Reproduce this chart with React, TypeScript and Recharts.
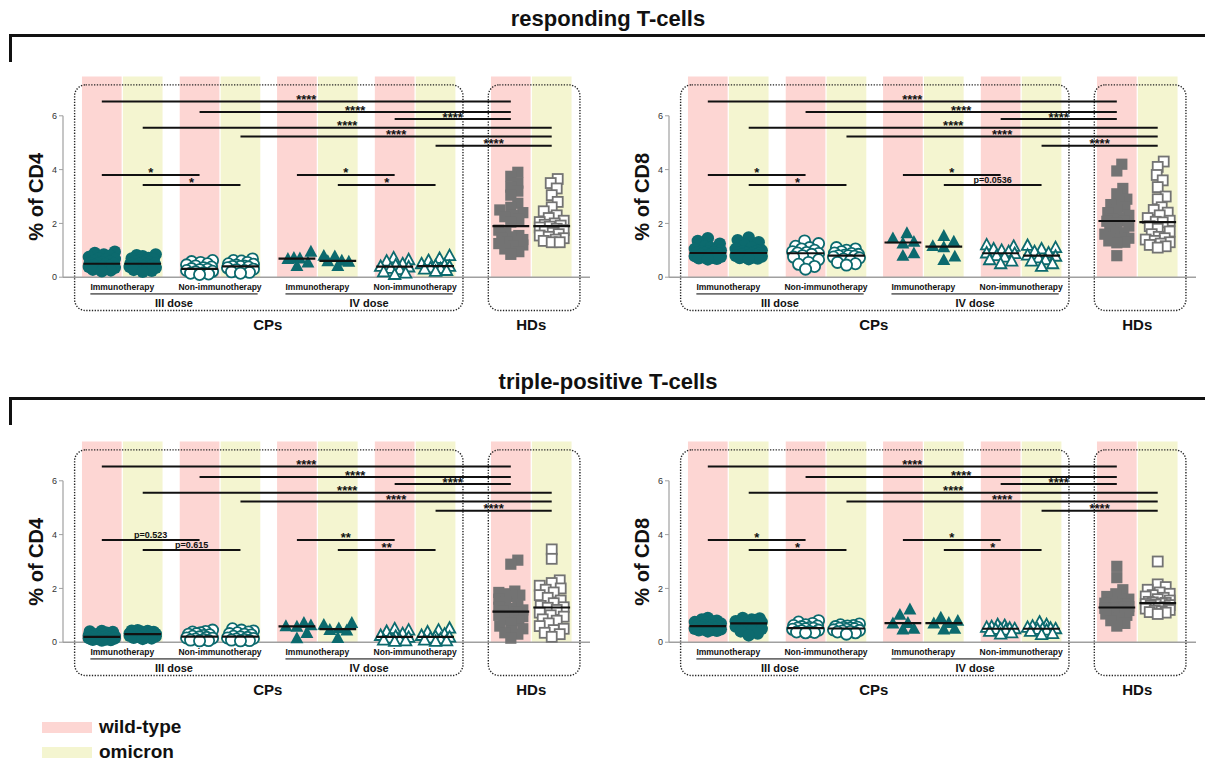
import React from "react";
import {
  ReferenceArea,
  ReferenceDot,
  ReferenceLine,
  Scatter,
  ScatterChart,
  XAxis,
  YAxis,
} from "recharts";

const FONT = '"Liberation Sans", Arial, Helvetica, sans-serif';
const TEAL = "#0c6a6e";
const GREY = "#737373";
const PINK = "#fdd6d3";
const YELLOW = "#f4f5d0";
const AXIS = "#a0a0a0";

// ---- categories / labels ----
const VARIANTS = ["wild-type", "omicron"];
const COHORTS = ["Immunotherapy", "Non-immunotherapy", "Immunotherapy", "Non-immunotherapy"];
const DOSES = ["III dose", "IV dose"];
const POPULATIONS = ["CPs", "HDs"];
const Y_TICKS = [0, 2, 4, 6];
const SECTION_TITLES = ["responding T-cells", "triple-positive T-cells"];
const LONG_STARS = ["****", "****", "****", "****", "****", "****"];

// ---- values (% of parent), one row per slot:
// III immuno wt, III immuno om, III non wt, III non om,
// IV immuno wt, IV immuno om, IV non wt, IV non om, HD wt, HD om
const respondingCD4 = [
  [0.95, 0.9, 0.85, 0.8, 0.75, 0.7, 0.68, 0.65, 0.6, 0.58, 0.55, 0.52, 0.5, 0.5, 0.48, 0.45, 0.42, 0.4, 0.38, 0.35, 0.32, 0.3, 0.28, 0.25, 0.22],
  [0.85, 0.82, 0.78, 0.72, 0.7, 0.66, 0.62, 0.6, 0.58, 0.55, 0.53, 0.52, 0.5, 0.49, 0.47, 0.45, 0.42, 0.4, 0.38, 0.35, 0.33, 0.3, 0.27, 0.24, 0.2],
  [0.62, 0.58, 0.55, 0.5, 0.46, 0.42, 0.38, 0.35, 0.32, 0.3, 0.28, 0.25, 0.22, 0.2, 0.17, 0.15, 0.12, 0.1],
  [0.68, 0.62, 0.6, 0.55, 0.5, 0.48, 0.45, 0.42, 0.4, 0.4, 0.38, 0.35, 0.3, 0.28, 0.25, 0.2, 0.18, 0.15],
  [0.95, 0.72, 0.7, 0.68, 0.55, 0.42],
  [0.8, 0.78, 0.62, 0.6, 0.58, 0.42],
  [0.72, 0.65, 0.6, 0.5, 0.45, 0.4, 0.38, 0.33, 0.28, 0.2, 0.15, 0.1],
  [0.8, 0.7, 0.62, 0.5, 0.45, 0.42, 0.4, 0.35, 0.32, 0.3, 0.25, 0.22],
  [3.9, 3.75, 3.5, 3.35, 3.2, 3.05, 2.75, 2.6, 2.5, 2.4, 2.3, 2.25, 2.15, 2.05, 1.75, 1.65, 1.55, 1.5, 1.45, 1.4, 1.35, 1.3, 1.25, 1.2, 1.15, 1.05, 0.95, 0.85],
  [3.65, 3.5, 3.3, 3.05, 2.8, 2.6, 2.45, 2.3, 2.2, 2.1, 2.05, 2.0, 1.95, 1.92, 1.88, 1.85, 1.8, 1.75, 1.7, 1.65, 1.6, 1.55, 1.5, 1.45, 1.4, 1.35, 1.3, 1.3],
];

const respondingCD8 = [
  [1.45, 1.35, 1.25, 1.15, 1.1, 1.05, 1.02, 1.0, 0.97, 0.95, 0.93, 0.91, 0.9, 0.88, 0.86, 0.84, 0.82, 0.8, 0.78, 0.76, 0.74, 0.72, 0.7, 0.68, 0.66],
  [1.48, 1.38, 1.3, 1.2, 1.1, 1.05, 1.0, 0.98, 0.96, 0.94, 0.92, 0.91, 0.9, 0.89, 0.87, 0.85, 0.83, 0.81, 0.79, 0.77, 0.75, 0.73, 0.71, 0.69, 0.67],
  [1.35, 1.25, 1.15, 1.1, 1.05, 1.0, 0.95, 0.92, 0.9, 0.88, 0.85, 0.8, 0.75, 0.65, 0.55, 0.48, 0.4, 0.3],
  [1.1, 1.05, 1.0, 0.95, 0.9, 0.88, 0.85, 0.82, 0.8, 0.8, 0.78, 0.75, 0.72, 0.68, 0.62, 0.55, 0.5, 0.45],
  [1.64, 1.45, 1.32, 1.26, 0.89, 0.8],
  [1.54, 1.33, 1.16, 1.12, 0.77, 0.64],
  [1.2, 1.15, 1.05, 1.0, 0.95, 0.9, 0.88, 0.8, 0.75, 0.65, 0.6, 0.5],
  [1.18, 1.1, 1.05, 0.95, 0.9, 0.82, 0.78, 0.72, 0.65, 0.6, 0.5, 0.4],
  [4.2, 3.95, 3.3, 3.1, 2.9, 2.8, 2.7, 2.6, 2.5, 2.4, 2.3, 2.2, 2.15, 2.1, 2.08, 2.0, 1.9, 1.8, 1.7, 1.65, 1.6, 1.5, 1.45, 1.4, 1.35, 1.3, 1.28, 0.8],
  [4.3, 4.1, 3.8, 3.6, 3.35, 3.0, 2.9, 2.6, 2.5, 2.4, 2.3, 2.2, 2.1, 2.06, 2.04, 1.9, 1.8, 1.7, 1.6, 1.5, 1.45, 1.4, 1.35, 1.3, 1.25, 1.2, 1.15, 1.1],
];

const tripleCD4 = [
  [0.42, 0.4, 0.38, 0.35, 0.32, 0.3, 0.28, 0.26, 0.25, 0.23, 0.22, 0.21, 0.2, 0.2, 0.19, 0.18, 0.17, 0.16, 0.15, 0.14, 0.12, 0.1, 0.09, 0.08, 0.06],
  [0.45, 0.43, 0.42, 0.4, 0.38, 0.36, 0.35, 0.34, 0.33, 0.32, 0.31, 0.3, 0.3, 0.29, 0.28, 0.27, 0.26, 0.25, 0.24, 0.22, 0.2, 0.18, 0.16, 0.14, 0.12],
  [0.45, 0.4, 0.38, 0.35, 0.32, 0.3, 0.28, 0.25, 0.22, 0.2, 0.18, 0.16, 0.15, 0.12, 0.1, 0.08, 0.06, 0.05],
  [0.5, 0.45, 0.42, 0.38, 0.35, 0.32, 0.3, 0.27, 0.22, 0.2, 0.18, 0.16, 0.14, 0.12, 0.1, 0.08, 0.06, 0.05],
  [0.72, 0.63, 0.6, 0.58, 0.35, 0.15],
  [0.72, 0.65, 0.52, 0.46, 0.44, 0.16],
  [0.5, 0.45, 0.4, 0.32, 0.25, 0.22, 0.18, 0.15, 0.1, 0.08, 0.05, 0.03],
  [0.52, 0.45, 0.38, 0.3, 0.25, 0.21, 0.19, 0.15, 0.12, 0.08, 0.05, 0.03],
  [3.05, 2.9, 1.9, 1.85, 1.8, 1.75, 1.7, 1.6, 1.5, 1.4, 1.3, 1.25, 1.2, 1.15, 1.12, 1.05, 1.0, 0.95, 0.9, 0.85, 0.8, 0.7, 0.6, 0.5, 0.4, 0.35, 0.3, 0.15],
  [3.45, 3.1, 2.3, 2.2, 2.1, 2.0, 1.95, 1.85, 1.75, 1.65, 1.55, 1.45, 1.35, 1.3, 1.28, 1.2, 1.1, 1.0, 0.95, 0.85, 0.8, 0.7, 0.6, 0.5, 0.45, 0.35, 0.3, 0.2],
];

const tripleCD8 = [
  [0.9, 0.85, 0.8, 0.78, 0.75, 0.72, 0.7, 0.68, 0.65, 0.63, 0.62, 0.6, 0.6, 0.58, 0.56, 0.55, 0.53, 0.52, 0.5, 0.48, 0.47, 0.45, 0.44, 0.42, 0.4],
  [0.9, 0.88, 0.85, 0.83, 0.8, 0.78, 0.77, 0.75, 0.74, 0.73, 0.72, 0.71, 0.7, 0.68, 0.66, 0.64, 0.62, 0.6, 0.58, 0.55, 0.5, 0.45, 0.4, 0.32, 0.25],
  [0.8, 0.75, 0.7, 0.65, 0.62, 0.6, 0.58, 0.55, 0.53, 0.52, 0.5, 0.48, 0.45, 0.43, 0.4, 0.38, 0.36, 0.35],
  [0.68, 0.65, 0.62, 0.6, 0.58, 0.56, 0.55, 0.53, 0.52, 0.5, 0.48, 0.46, 0.44, 0.42, 0.4, 0.38, 0.35, 0.3],
  [1.22, 1.02, 0.72, 0.7, 0.5, 0.48],
  [0.92, 0.8, 0.72, 0.7, 0.5, 0.48],
  [0.65, 0.62, 0.58, 0.55, 0.52, 0.5, 0.5, 0.48, 0.45, 0.4, 0.35, 0.3],
  [0.75, 0.65, 0.6, 0.55, 0.52, 0.5, 0.5, 0.48, 0.45, 0.4, 0.32, 0.28],
  [2.82, 2.4, 1.95, 1.8, 1.7, 1.6, 1.55, 1.5, 1.45, 1.42, 1.4, 1.35, 1.32, 1.3, 1.28, 1.26, 1.25, 1.22, 1.2, 1.18, 1.15, 1.1, 1.05, 1.0, 0.9, 0.8, 0.7, 0.6],
  [3.0, 2.15, 2.05, 1.95, 1.85, 1.8, 1.75, 1.7, 1.65, 1.6, 1.55, 1.5, 1.48, 1.46, 1.44, 1.42, 1.4, 1.38, 1.35, 1.3, 1.28, 1.25, 1.2, 1.18, 1.15, 1.12, 1.1, 1.05],
];

// significance labels for the within-dose comparisons
const respondingCD4Short = ["*", "*", "*", "*"];
const respondingCD8Short = ["*", "*", "*", "p=0.0536"];
const tripleCD4Short = ["p=0.523", "p=0.615", "**", "**"];
const tripleCD8Short = ["*", "*", "*", "*"];

// ---- layout ----
const SLOT_X = [0, 1, 2.39, 3.39, 4.77, 5.77, 7.16, 8.16, 10, 11];
const X_DOMAIN: [number, number] = [-0.949, 11.936];
const Y_DOMAIN: [number, number] = [-2.78, 8];
const PX_X = 40.9;
const PX_Y = 26.9;
const CHART_H = 290;
const AXIS_W = 63;
const PLOT_W = 527;
const LONG_PAIRS = [[0, 8], [2, 8], [6, 8], [1, 9], [3, 9], [7, 9]];
const LONG_Y = [6.53, 6.14, 5.88, 5.56, 5.23, 4.89];
const SHORT_PAIRS = [[0, 2], [1, 3], [4, 6], [5, 7]];
const SHORT_Y = [3.8, 3.43, 3.8, 3.43];

const median = (v: number[]) => {
  const s = [...v].sort((a, b) => a - b);
  const m = Math.floor(s.length / 2);
  return s.length % 2 ? s[m] : (s[m - 1] + s[m]) / 2;
};

// simple deterministic beeswarm, returns x offsets in axis units
function swarm(values: number[], d: number, maxPx: number) {
  const order = values.map((_, i) => i).sort((a, b) => values[a] - values[b]);
  const placed: { x: number; y: number }[] = [];
  const offs = new Array(values.length).fill(0);
  for (const i of order) {
    const y = values[i] * PX_Y;
    let bestX = 0;
    let bestD = -1;
    for (let k = 0; k <= 2 * maxPx; k++) {
      const x = k === 0 ? 0 : (k % 2 === 1 ? 1 : -1) * Math.ceil(k / 2);
      let m = Infinity;
      for (const p of placed) m = Math.min(m, Math.hypot(p.x - x, p.y - y));
      if (m >= d) {
        bestX = x;
        break;
      }
      if (m > bestD) {
        bestD = m;
        bestX = x;
      }
    }
    placed.push({ x: bestX, y });
    offs[i] = bestX / PX_X;
  }
  return offs;
}

type Kind = "circle" | "triangle" | "square";
const kindOf = (i: number): Kind => (i < 4 ? "circle" : i < 8 ? "triangle" : "square");
const filledOf = (i: number) => [0, 1, 4, 5, 8].includes(i);

function Marker({ cx, cy, kind, filled }: { cx: number; cy: number; kind: Kind; filled: boolean }) {
  const color = kind === "square" ? GREY : TEAL;
  const fill = filled ? color : "#fff";
  const sw = filled ? 0 : 1.8;
  if (kind === "circle") {
    return <circle cx={cx} cy={cy} r={filled ? 6.2 : 5.6} fill={fill} stroke={color} strokeWidth={sw} />;
  }
  if (kind === "triangle") {
    const s = filled ? 6.8 : 6.0;
    const pts = `${cx},${cy - s} ${cx + s * 0.95},${cy + s * 0.75} ${cx - s * 0.95},${cy + s * 0.75}`;
    return <polygon points={pts} fill={fill} stroke={color} strokeWidth={sw} strokeLinejoin="miter" />;
  }
  const h = filled ? 5.6 : 5.0;
  return <rect x={cx - h} y={cy - h} width={2 * h} height={2 * h} fill={fill} stroke={color} strokeWidth={sw} />;
}

const textDot = (
  key: string,
  x: number,
  y: number,
  text: string,
  size: number,
  opts: { weight?: string; dy?: number; baseline?: string; rotate?: boolean } = {}
) => (
  <ReferenceDot
    key={key}
    x={x}
    y={y}
    r={0}
    ifOverflow="visible"
    zIndex={800}
    shape={(p: any) => (
      <text
        x={p.cx}
        y={p.cy + (opts.dy ?? 0)}
        textAnchor="middle"
        dominantBaseline={(opts.baseline ?? "central") as any}
        fontSize={size}
        fontWeight={opts.weight ?? "normal"}
        fontFamily={FONT}
        fill="#111"
        transform={opts.rotate ? `rotate(-90 ${p.cx} ${p.cy})` : undefined}
      >
        {text}
      </text>
    )}
  />
);

const seg = (key: string, x1: number, x2: number, y: number, stroke: string, w: number) => (
  <ReferenceLine
    key={key}
    segment={[{ x: x1, y }, { x: x2, y }]}
    stroke={stroke}
    strokeWidth={w}
    ifOverflow="visible"
    zIndex={700}
  />
);

function Panel({
  left,
  top,
  width,
  groups,
  yLabel,
  shortLabels,
}: {
  left: number;
  top: number;
  width: number;
  groups: number[][];
  yLabel: string;
  shortLabels: string[];
}) {
  const series = groups.map((vals, i) => {
    const kind = kindOf(i);
    const offs = kind === "circle" ? swarm(vals, 8.5, 13) : kind === "triangle" ? swarm(vals, 11, 14) : swarm(vals, 8, 12);
    return vals.map((v, j) => ({ x: SLOT_X[i] + offs[j], y: v }));
  });
  const pairMid = [0, 1, 2, 3].map((k) => (SLOT_X[2 * k] + SLOT_X[2 * k + 1]) / 2);
  const doseSpan = [0, 1].map((k) => [SLOT_X[4 * k] - 0.28, SLOT_X[4 * k + 3] + 0.42]);

  return (
    <div style={{ position: "absolute", left, top }}>
      <ScatterChart
        width={width}
        height={CHART_H}
        margin={{ top: 0, right: width - AXIS_W - PLOT_W, bottom: 0, left: 0 }}
      >
        <XAxis type="number" dataKey="x" domain={X_DOMAIN} allowDataOverflow hide />
        <YAxis
          type="number"
          dataKey="y"
          domain={Y_DOMAIN}
          allowDataOverflow
          ticks={Y_TICKS}
          interval={0}
          width={AXIS_W}
          axisLine={false}
          tickLine={{ stroke: AXIS }}
          tickSize={4}
          tick={{ fontSize: 9, fill: "#333", fontFamily: FONT }}
        />
        {SLOT_X.map((x, i) => (
          <ReferenceArea
            key={`band${i}`}
            x1={x - 0.485}
            x2={x + 0.485}
            y1={0}
            y2={7.46}
            fill={i % 2 ? YELLOW : PINK}
            fillOpacity={1}
            stroke="none"
            ifOverflow="visible"
          />
        ))}
        <ReferenceLine
          segment={[{ x: X_DOMAIN[0], y: 0 }, { x: X_DOMAIN[1], y: 0 }]}
          stroke={AXIS}
          strokeWidth={1.6}
          ifOverflow="visible"
        />
        <ReferenceLine
          segment={[{ x: X_DOMAIN[0], y: 0 }, { x: X_DOMAIN[0], y: 6 }]}
          stroke={AXIS}
          strokeWidth={1.2}
          ifOverflow="visible"
        />
        {[
          [-0.665, 8.83],
          [9.45, 11.69],
        ].map(([x1, x2], i) => (
          <ReferenceArea
            key={`box${i}`}
            x1={x1}
            x2={x2}
            y1={-1.24}
            y2={7.15}
            ifOverflow="visible"
            shape={(p: any) => (
              <rect
                x={p.x}
                y={p.y}
                width={p.width}
                height={p.height}
                rx={11}
                fill="none"
                stroke="#222"
                strokeWidth={1.4}
                strokeDasharray="1.3 1.5"
              />
            )}
          />
        ))}
        {series.map((pts, i) => (
          <Scatter
            key={`s${i}`}
            data={pts}
            isAnimationActive={false}
            shape={(p: any) => <Marker cx={p.cx} cy={p.cy} kind={kindOf(i)} filled={filledOf(i)} />}
          />
        ))}
        {groups.map((vals, i) => seg(`med${i}`, SLOT_X[i] - 0.45, SLOT_X[i] + 0.45, median(vals), "#111", 2.2))}
        {LONG_PAIRS.map(([a, b], i) => seg(`long${i}`, SLOT_X[a], SLOT_X[b], LONG_Y[i], "#111", 2))}
        {SHORT_PAIRS.map(([a, b], i) => seg(`short${i}`, SLOT_X[a], SLOT_X[b], SHORT_Y[i], "#111", 2))}
        {LONG_PAIRS.map(([a, b], i) =>
          textDot(`lt${i}`, (SLOT_X[a] + SLOT_X[b]) / 2, LONG_Y[i], LONG_STARS[i], 13, {
            weight: "bold",
            dy: 2.5,
            baseline: "alphabetic",
          })
        )}
        {SHORT_PAIRS.map(([a, b], i) => {
          const t = shortLabels[i];
          const isP = t.startsWith("p");
          return textDot(`st${i}`, (SLOT_X[a] + SLOT_X[b]) / 2, SHORT_Y[i], t, isP ? 9 : 13, {
            weight: "bold",
            dy: isP ? -1.5 : 2.5,
            baseline: "alphabetic",
          });
        })}
        {doseSpan.map(([x1, x2], i) => seg(`ul${i}`, x1, x2, -0.62, "#6e6e6e", 1.6))}
        {COHORTS.map((c, i) => textDot(`c${i}`, pairMid[i], -0.38, c, 8.5, { weight: "bold" }))}
        {DOSES.map((d, i) => textDot(`d${i}`, (doseSpan[i][0] + doseSpan[i][1]) / 2, -0.955, d, 11, { weight: "bold" }))}
        {textDot("cps", 4.06, -1.74, POPULATIONS[0], 15, { weight: "bold" })}
        {textDot("hds", 10.5, -1.74, POPULATIONS[1], 15, { weight: "bold" })}
        {textDot("ylab", X_DOMAIN[0] - 27 / PX_X, 2.99, yLabel, 20, { weight: "bold", rotate: true })}
      </ScatterChart>
    </div>
  );
}

function Section({ top, title }: { top: number; title: string }) {
  return (
    <>
      <div
        style={{
          position: "absolute",
          left: 358,
          top: top - 12,
          width: 500,
          textAlign: "center",
          fontFamily: FONT,
          fontWeight: "bold",
          fontSize: 22,
          lineHeight: "24px",
          color: "#111",
        }}
      >
        {title}
      </div>
      <div style={{ position: "absolute", left: 9, top: top + 15, width: 1196, height: 3, background: "#111" }} />
      <div style={{ position: "absolute", left: 9, top: top + 15, width: 3, height: 28, background: "#111" }} />
    </>
  );
}

export default function App() {
  return (
    <div
      style={{
        position: "absolute",
        left: 0,
        top: 0,
        width: 1205,
        height: 763,
        background: "#fff",
        overflow: "hidden",
        fontFamily: FONT,
      }}
    >
      <Section top={19} title={SECTION_TITLES[0]} />
      <Section top={382} title={SECTION_TITLES[1]} />
      <Panel left={0} top={62} width={600} groups={respondingCD4} yLabel="% of CD4" shortLabels={respondingCD4Short} />
      <Panel left={606} top={62} width={599} groups={respondingCD8} yLabel="% of CD8" shortLabels={respondingCD8Short} />
      <Panel left={0} top={427} width={600} groups={tripleCD4} yLabel="% of CD4" shortLabels={tripleCD4Short} />
      <Panel left={606} top={427} width={599} groups={tripleCD8} yLabel="% of CD8" shortLabels={tripleCD8Short} />
      {VARIANTS.map((v, i) => (
        <React.Fragment key={v}>
          <div
            style={{
              position: "absolute",
              left: 42,
              top: 722 + i * 25,
              width: 50,
              height: 11,
              background: i ? YELLOW : PINK,
            }}
          />
          <div
            style={{
              position: "absolute",
              left: 99,
              top: 716 + i * 25,
              fontSize: 19,
              lineHeight: "22px",
              fontWeight: "bold",
              color: "#111",
            }}
          >
            {v}
          </div>
        </React.Fragment>
      ))}
    </div>
  );
}
